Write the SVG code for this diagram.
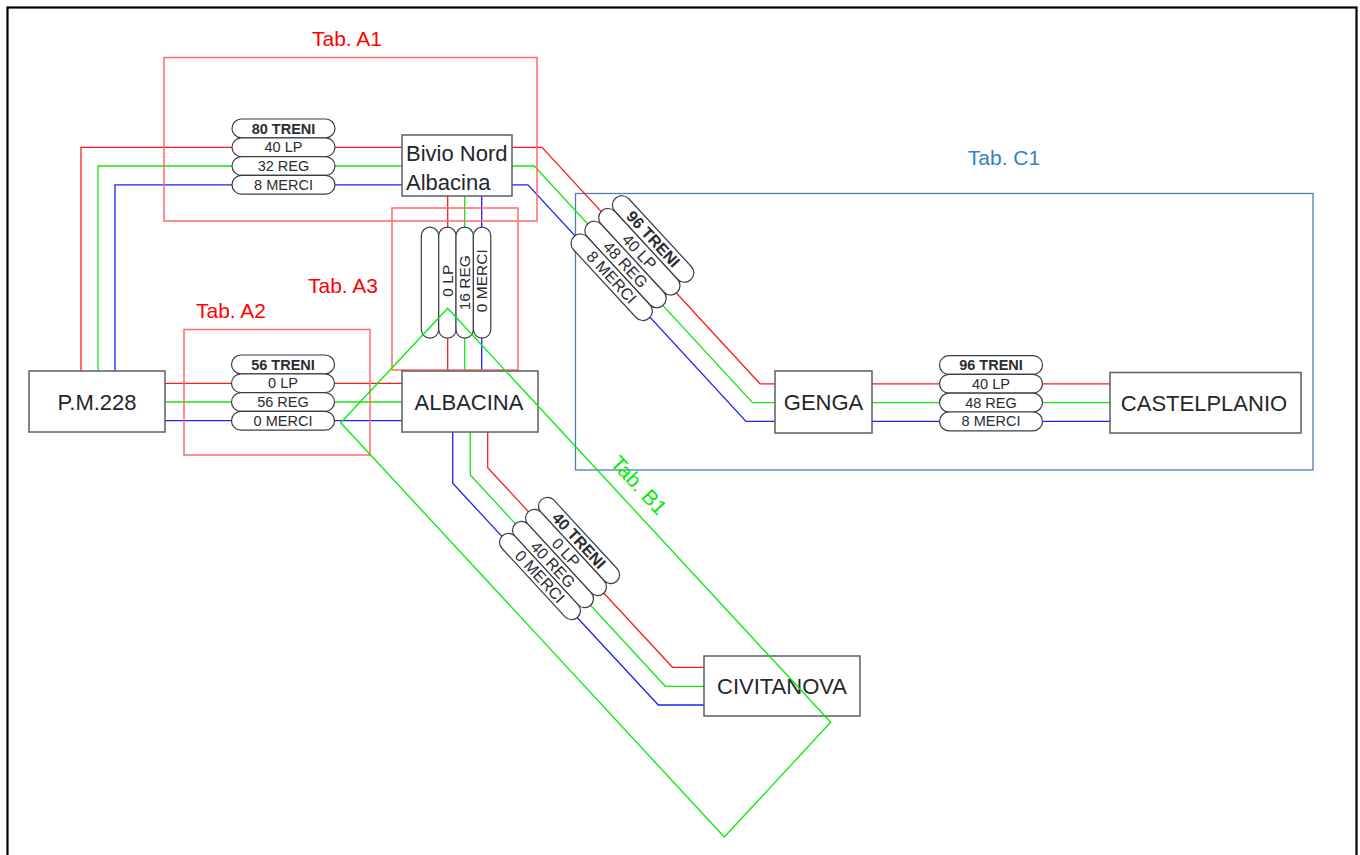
<svg xmlns="http://www.w3.org/2000/svg" width="1360" height="855" viewBox="0 0 1360 855">
<style>
.frame{fill:none;stroke:#000;stroke-width:2.2}
.zr{fill:none;stroke:#ff6b6b;stroke-width:1.5}
.zc{fill:none;stroke:#4a7fb5;stroke-width:1.3}
.zg{fill:none;stroke:#00ee00;stroke-width:1.3}
.r{fill:none;stroke:#ff1a1a;stroke-width:1.3}
.g{fill:none;stroke:#14e614;stroke-width:1.3}
.b{fill:none;stroke:#2020f0;stroke-width:1.3}
.box{fill:#fff;stroke:#5a5f66;stroke-width:1.5}
.nt{font-family:"Liberation Sans",Arial,sans-serif;font-size:22px;fill:#23272c}
.pill{fill:#fff;stroke:#3a3d42;stroke-width:1.2}
.pt{font-family:"Liberation Sans",Arial,sans-serif;font-size:14.5px;fill:#2a2d31;text-anchor:middle}
.pb{font-weight:bold}
.lr{font-family:"Liberation Sans",Arial,sans-serif;font-size:21px;fill:#ff0000;text-anchor:middle}
.lc{font-family:"Liberation Sans",Arial,sans-serif;font-size:21px;fill:#3a7fc0;text-anchor:middle}
.lg{font-family:"Liberation Sans",Arial,sans-serif;font-size:21px;fill:#00ee00;text-anchor:middle}
</style>
<rect width="1360" height="855" fill="#fff"/>
<rect class="frame" x="7.5" y="7.5" width="1349" height="900"/>

<g id="zones">
<rect id="tabC1" class="zc" x="575.5" y="193.5" width="737.5" height="276.5"/>
</g>

<g id="connectors">
<path class="r" d="M402,147.3 H81 V371"/>
<path class="g" d="M402,166 H98 V371"/>
<path class="b" d="M402,184.8 H115 V371"/>
<path class="r" d="M512,147.3 H542 L760,383.8 H775"/>
<path class="g" d="M512,166 H534.3 L752.5,402.6 H775"/>
<path class="b" d="M512,184.8 H528 L746,421.4 H775"/>
<path class="r" d="M447.7,196 V371"/>
<path class="g" d="M464.7,196 V371"/>
<path class="b" d="M481.7,196 V371"/>
<path class="r" d="M165,383.3 H402"/>
<path class="g" d="M165,402 H402"/>
<path class="b" d="M165,420.7 H402"/>
<path class="r" d="M872,383.8 H1110"/>
<path class="g" d="M872,402.6 H1110"/>
<path class="b" d="M872,421.4 H1110"/>
<path class="r" d="M487.7,432 V467.7 L672.5,667.3 H704"/>
<path class="g" d="M470.3,432 V475 L665.3,686.3 H704"/>
<path class="b" d="M452.7,432 V483.3 L658.3,705 H704"/>
</g>

<g id="zonesA">
<rect id="tabA1" class="zr" x="164" y="57.5" width="373" height="163.5"/>
<rect id="tabA2" class="zr" x="184" y="329.5" width="186" height="125.5"/>
<rect id="tabA3" class="zr" x="392" y="208" width="126" height="162"/>
</g>

<g id="pillsA1" transform="translate(283.5,166)">
<rect class="pill" x="-51.5" y="-47" width="103" height="18.8" rx="9.4"/>
<rect class="pill" x="-51.5" y="-28.2" width="103" height="18.8" rx="9.4"/>
<rect class="pill" x="-51.5" y="-9.4" width="103" height="18.8" rx="9.4"/>
<rect class="pill" x="-51.5" y="9.4" width="103" height="18.8" rx="9.4"/>
<text class="pt pb" x="0" y="-32.5">80 TRENI</text>
<text class="pt" x="0" y="-13.7">40 LP</text>
<text class="pt" x="0" y="5.1">32 REG</text>
<text class="pt" x="0" y="23.9">8 MERCI</text>
</g>

<g id="pillsA2" transform="translate(283,402)">
<rect class="pill" x="-51.5" y="-47" width="103" height="18.8" rx="9.4"/>
<rect class="pill" x="-51.5" y="-28.2" width="103" height="18.8" rx="9.4"/>
<rect class="pill" x="-51.5" y="-9.4" width="103" height="18.8" rx="9.4"/>
<rect class="pill" x="-51.5" y="9.4" width="103" height="18.8" rx="9.4"/>
<text class="pt pb" x="0" y="-32.5">56 TRENI</text>
<text class="pt" x="0" y="-13.7">0 LP</text>
<text class="pt" x="0" y="5.1">56 REG</text>
<text class="pt" x="0" y="23.9">0 MERCI</text>
</g>

<g id="pillsGC" transform="translate(991,402.6)">
<rect class="pill" x="-51.5" y="-47" width="103" height="18.8" rx="9.4"/>
<rect class="pill" x="-51.5" y="-28.2" width="103" height="18.8" rx="9.4"/>
<rect class="pill" x="-51.5" y="-9.4" width="103" height="18.8" rx="9.4"/>
<rect class="pill" x="-51.5" y="9.4" width="103" height="18.8" rx="9.4"/>
<text class="pt pb" x="0" y="-32.5">96 TRENI</text>
<text class="pt" x="0" y="-13.7">40 LP</text>
<text class="pt" x="0" y="5.1">48 REG</text>
<text class="pt" x="0" y="23.9">8 MERCI</text>
</g>

<g id="pillsA3" transform="translate(464.7,282.7) rotate(-90)">
<rect class="pill" x="-55.5" y="-43.4" width="111" height="17.4" rx="8.7"/>
<rect class="pill" x="-55.5" y="-26" width="111" height="17.4" rx="8.7"/>
<rect class="pill" x="-55.5" y="-8.7" width="111" height="17.4" rx="8.7"/>
<rect class="pill" x="-55.5" y="8.7" width="111" height="17.4" rx="8.7"/>
<text class="pt" style="font-size:15.5px" x="2" y="-11.8">0 LP</text>
<text class="pt" style="font-size:15.5px" x="0" y="5.5">16 REG</text>
<text class="pt" style="font-size:15.5px" x="2" y="22.8">0 MERCI</text>
</g>

<g id="pillsC1" transform="translate(625.5,264.5) rotate(47.3)">
<rect class="pill" x="-55.5" y="-47" width="111" height="18.8" rx="9.4"/>
<rect class="pill" x="-55.5" y="-28.2" width="111" height="18.8" rx="9.4"/>
<rect class="pill" x="-55.5" y="-9.4" width="111" height="18.8" rx="9.4"/>
<rect class="pill" x="-55.5" y="9.4" width="111" height="18.8" rx="9.4"/>
<text class="pt pb" style="font-size:16px" x="0" y="-32">96 TRENI</text>
<text class="pt" style="font-size:16px" x="0" y="-13.2">40 LP</text>
<text class="pt" style="font-size:16px" x="0" y="5.6">48 REG</text>
<text class="pt" style="font-size:16px" x="0" y="24.4">8 MERCI</text>
</g>

<g id="pillsB1" transform="translate(553,564.5) rotate(47.3)">
<rect class="pill" x="-55.5" y="-44.3" width="111" height="17.7" rx="8.85"/>
<rect class="pill" x="-55.5" y="-26.6" width="111" height="17.7" rx="8.85"/>
<rect class="pill" x="-55.5" y="-8.85" width="111" height="17.7" rx="8.85"/>
<rect class="pill" x="-55.5" y="8.85" width="111" height="17.7" rx="8.85"/>
<text class="pt pb" style="font-size:16px" x="0" y="-29.8">40 TRENI</text>
<text class="pt" style="font-size:16px" x="0" y="-12.1">0 LP</text>
<text class="pt" style="font-size:16px" x="0" y="5.6">40 REG</text>
<text class="pt" style="font-size:16px" x="0" y="23.3">0 MERCI</text>
</g>

<g id="nodePM228"><rect class="box" x="29" y="371" width="136" height="61"/><text class="nt" x="97" y="409.5" text-anchor="middle">P.M.228</text></g>
<g id="nodeAlbacina"><rect class="box" x="402" y="371" width="136" height="61"/><text class="nt" x="469" y="409.5" text-anchor="middle">ALBACINA</text></g>
<g id="nodeBivio"><rect class="box" x="402" y="135" width="110" height="61"/><text class="nt" x="406" y="161">Bivio Nord</text><text class="nt" x="406" y="189.5">Albacina</text></g>
<g id="nodeGenga"><rect class="box" x="775" y="371" width="97" height="62"/><text class="nt" x="823.5" y="410" text-anchor="middle">GENGA</text></g>
<g id="nodeCastelplanio"><rect class="box" x="1110" y="372.5" width="191" height="60.5"/><text class="nt" x="1204" y="410.5" text-anchor="middle">CASTELPLANIO</text></g>
<g id="nodeCivitanova"><rect class="box" x="704" y="656" width="156" height="60"/><text class="nt" x="782" y="694" text-anchor="middle">CIVITANOVA</text></g>

<g id="labels">
<text class="lr" x="347" y="45.5">Tab. A1</text>
<text class="lr" x="231" y="317.5">Tab. A2</text>
<text class="lr" x="343" y="292.5">Tab. A3</text>
<text class="lc" x="1004" y="164.5">Tab. C1</text>
</g>

<g id="zoneB1">
<polygon id="tabB1" class="zg" points="447.7,308.3 830.7,722.3 724.3,837 340.7,422.7"/>
<text class="lg" transform="translate(639,485) rotate(47.3)" x="0" y="7.5">Tab. B1</text>
</g>
</svg>
